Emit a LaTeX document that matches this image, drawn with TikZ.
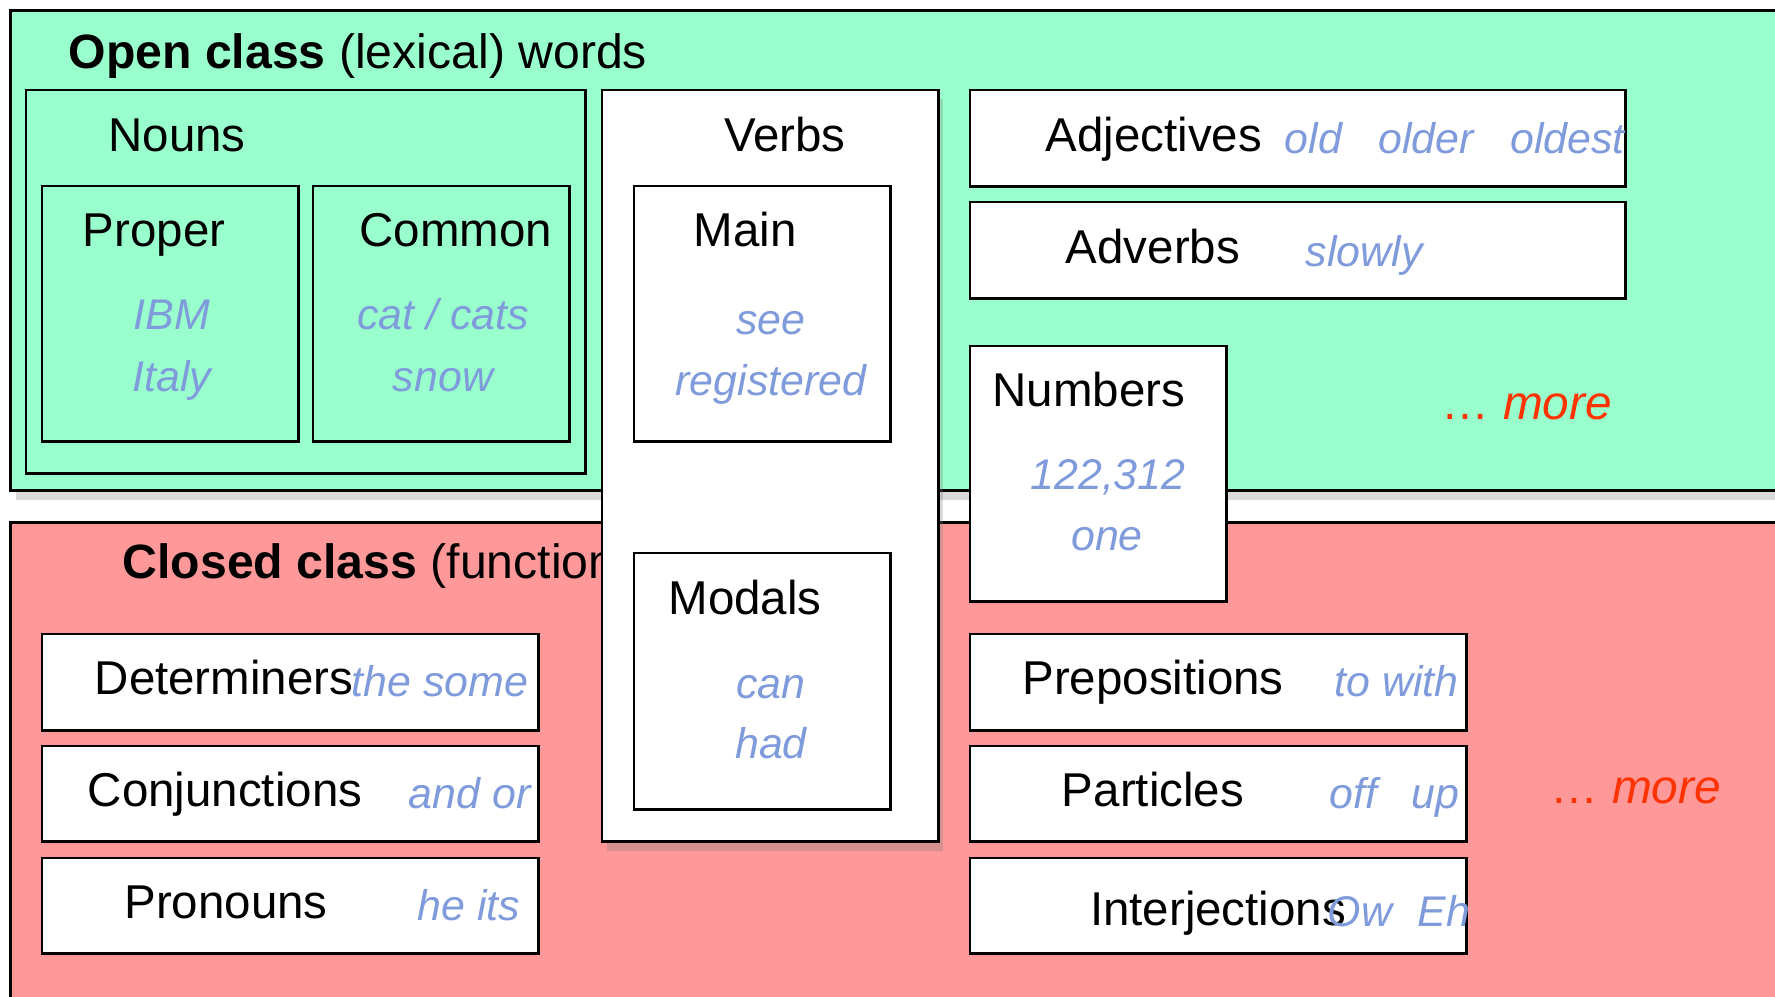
\documentclass[tikz,border=0pt]{standalone}
\usepackage{fontspec}
\setmainfont{Liberation Sans}
\usepackage{tikz}
\usetikzlibrary{shadows}
\definecolor{openfill}{HTML}{99FFCC}
\definecolor{closedfill}{HTML}{FF9999}
\definecolor{exblue}{HTML}{7F9BDC}
\definecolor{morered}{HTML}{FF3300}
\tikzstyle{softshadow} = [drop shadow={shadow xshift=0.05cm, shadow yshift=-0.09cm, opacity=0.3}]
\tikzstyle{classbox} = [draw, line width=0.9pt, anchor=north west, minimum width=18cm, softshadow]
\tikzstyle{catbox} = [draw, line width=0.7pt, anchor=north west]
\tikzstyle{wordbox} = [catbox, fill=white, minimum height=0.95cm]
\tikzstyle{smallbox} = [catbox, minimum width=2.56cm, minimum height=2.55cm]
\tikzstyle{lbl} = [anchor=base]
\tikzstyle{egword} = [anchor=base, text=exblue, font=\fontsize{12.2}{14}\selectfont\itshape]
\tikzstyle{moretext} = [anchor=base, text=morered, font=\fontsize{13.6}{16}\selectfont]

\begin{document}
\begin{tikzpicture}[x=0.01cm, y=-0.01cm, every node/.style={inner sep=0pt, font=\fontsize{13.5}{16}\selectfont}]
    \useasboundingbox (0,0) rectangle (1775,996);
    \node[classbox, fill=openfill, minimum height=4.80cm] (open) at (9,9) {};
    \node[classbox, fill=closedfill, minimum height=5cm] (closed) at (9,521) {};
    \node[anchor=base west, font=\fontsize{13.7}{16}\selectfont] (opentitle) at (68,68) {\textbf{Open class} (lexical) words};
    \node[anchor=base west, font=\fontsize{13.7}{16}\selectfont] (closedtitle) at (122,578) {\textbf{Closed class} (function words)};

    \node[catbox, minimum width=5.59cm, minimum height=3.83cm] (nouns) at (25,89) {};
    \node[lbl] (nounslbl) at (177,151) {Nouns};
    \node[smallbox] (proper) at (41,185) {};
    \node[lbl] (properlbl) at (154,246) {Proper};
    \node[egword] (ibm) at (172,329) {IBM};
    \node[egword] (italy) at (172,391) {Italy};
    \node[smallbox] (common) at (312,185) {};
    \node[lbl] (commonlbl) at (456,246) {Common};
    \node[egword] (cat) at (443,329) {cat / cats};
    \node[egword] (snow) at (443,391) {snow};

    \node[catbox, fill=white, minimum width=3.36cm, minimum height=7.51cm, softshadow] (verbs) at (601,89) {};
    \node[lbl] (verbslbl) at (785,151) {Verbs};
    \node[smallbox] (main) at (633,185) {};
    \node[lbl] (mainlbl) at (745,246) {Main};
    \node[egword] (see) at (771,334) {see};
    \node[egword] (registered) at (771,395) {registered};
    \node[smallbox, minimum height=2.56cm] (modals) at (633,552) {};
    \node[lbl] (modalslbl) at (745,614) {Modals};
    \node[egword] (can) at (771,698) {can};
    \node[egword] (had) at (771,758) {had};

    \node[wordbox, minimum width=6.55cm, minimum height=0.96cm] (adj) at (969,89) {};
    \node[lbl, anchor=base west] (adjlbl) at (1045,151) {Adjectives};
    \node[egword, anchor=base west] (adjeg) at (1284,153) {old\hspace{0.85em}older\hspace{0.85em}oldest};
    \node[wordbox, minimum width=6.55cm, minimum height=0.96cm] (adv) at (969,201) {};
    \node[lbl] (advlbl) at (1153,263) {Adverbs};
    \node[egword, anchor=base west] (adveg) at (1305,266) {slowly};
    \node[smallbox, fill=white] (numbers) at (969,345) {};
    \node[lbl] (numberslbl) at (1089,406) {Numbers};
    \node[egword] (num) at (1108,489) {122,312};
    \node[egword] (one) at (1107,550) {one};
    \node[moretext] (openmore) at (1527,419) {\ldots{} \textit{more}};

    \node[wordbox, minimum width=4.96cm, minimum height=0.96cm] (prep) at (969,633) {};
    \node[lbl] (preplbl) at (1153,694) {Prepositions};
    \node[egword, anchor=base west] (prepeg) at (1334,696) {to with};
    \node[wordbox, minimum width=4.96cm] (part) at (969,745) {};
    \node[lbl] (partlbl) at (1153,806) {Particles};
    \node[egword, anchor=base west] (parteg) at (1329,808) {off\hspace{0.8em}up};
    \node[wordbox, minimum width=4.96cm] (interj) at (969,857) {};
    \node[lbl] (interjlbl) at (1218,925) {Interjections};
    \node[egword, anchor=base west] (interjeg) at (1327,926) {Ow\hspace{0.6em}Eh};
    \node[moretext] (closedmore) at (1636,803) {\ldots{} \textit{more}};

    \node[wordbox, minimum width=4.96cm, minimum height=0.96cm] (det) at (41,633) {};
    \node[lbl] (detlbl) at (224,694) {Determiners};
    \node[egword, anchor=base west] (deteg) at (351,696) {the some};
    \node[wordbox, minimum width=4.96cm] (conj) at (41,745) {};
    \node[lbl] (conjlbl) at (225,806) {Conjunctions};
    \node[egword, anchor=base west] (conjeg) at (408,808) {and or};
    \node[wordbox, minimum width=4.96cm] (pron) at (41,857) {};
    \node[lbl] (pronlbl) at (226,918) {Pronouns};
    \node[egword, anchor=base west] (proneg) at (417,920) {he its};
\end{tikzpicture}
\end{document}
